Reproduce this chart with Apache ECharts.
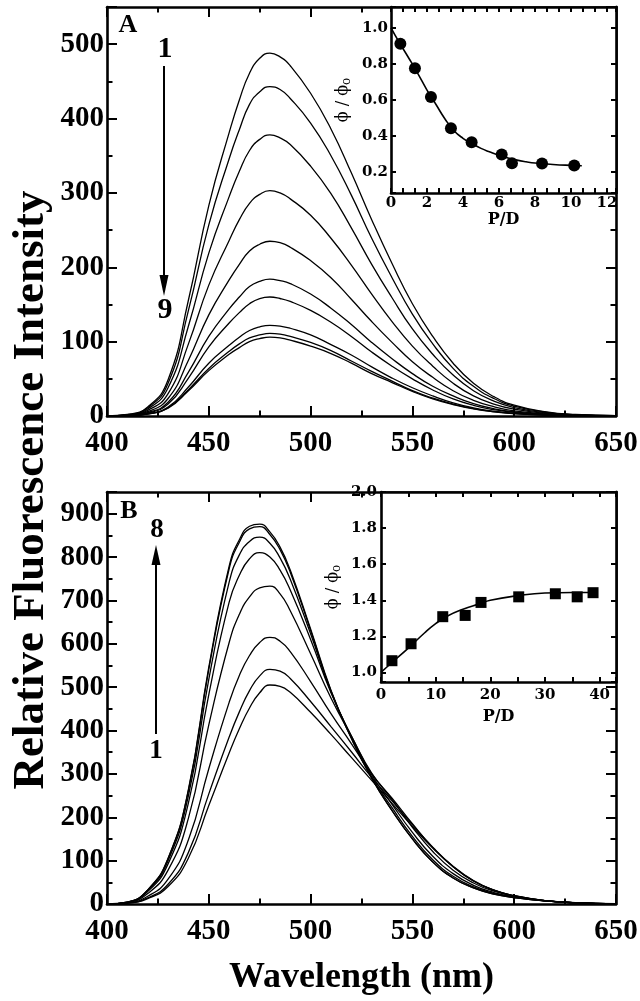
<!DOCTYPE html>
<html><head><meta charset="utf-8">
<script src="https://cdn.jsdelivr.net/npm/echarts@6/dist/echarts.min.js"></script>
<style>html,body{margin:0;padding:0;background:#fff}#c{width:640px;height:1001px}</style>
</head><body><div id="c"></div>
<script>
// ---- data ----
const wavelength = [400,410,420,430,440,450,460,465,470,475,480,485,490,500,510,520,530,540,550,560,570,580,590,600,615,630,650];

const specA1 = [0,2,12.2,48.8,156,283,381,425,461,481,488,483,471,434,386,327,264,205,151,107,71,44,26,14.6,5.9,2,0.5];
const specA2 = [0,1.8,11,44,142,257,346,385,419,436,443,439,427,394,350,297,239,186,137,97,64,40,23.5,13.3,5.3,1.8,0.4];
const specA3 = [0,1.5,9.5,38,121,219,295,329,357,372,378,374,365,336,299,253,204,159,117,83,55,34,20,11.3,4.5,1.5,0.4];
const specA4 = [0,1.2,7.6,30,97,176,236,264,286,298,303,300,292,270,239,203,164,127,94,67,44,27,16,9.1,3.6,1.2,0.3];
const specA5 = [0,0.9,5.9,23.5,75,136,183,204,222,231,235,233,227,209,186,157,127,99,73,52,34,21,12.5,7,2.8,0.9,0.2];
const specA6 = [0,0.7,4.6,18.4,59,107,144,160,174,181,184,182,178,164,145,123,99,77,57,40,27,16.6,9.8,5.5,2.2,0.7,0.2];
const specA7 = [0,0.6,4,16,51,93,125,139,151,158,160,158,154,142,126,107,86,67,50,35,23,14.4,8.5,4.8,1.9,0.6,0.2];
const specA8 = [0,0.5,3,12.2,39,71,95,106,115,120,122,121,118,109,96,82,66,51,38,27,17.7,11,6.5,3.7,1.5,0.5,0.1];
const specA9 = [0,0.4,2.8,11.1,35.5,64,87,97,105,109,111,110,107,99,88,74,60,47,34,24,16,10,5.9,3.3,1.3,0.4,0.1];
const specA10 = [0,0.4,2.7,10.6,34,61,83,92,100,104,106,105,102,94,84,71,57,45,33,23,15.4,9.5,5.6,3.2,1.3,0.4,0.1];

const specB1 = [0,2,12.6,40.4,106,227,348,404,452,487,505,502,488,442,391,338,285,232,179,129,86,53,32,18.7,7.6,3,0.5];
const specB2 = [0,2.2,14.2,45.6,119,254,385,443,492,526,541,537,520,467,409,351,292,238,183,131,87,54,32,19,7.8,3.1,0.5];
const specB3 = [0,2.7,17.8,57.3,148,312,465,527,573,603,615,606,582,513,439,370,300,244,185,130,86,53,32,19.1,7.9,3.2,0.6];
const specB4 = [0,3.4,24.2,78.1,198,413,603,668,708,729,733,715,676,577,475,387,302,241,177,121,78,48.5,29.5,18.1,7.9,3,0.5];
const specB5 = [0,3.9,28.6,92.5,233,483,696,758,796,810,800,770,724,610,487,388,298,230,165,110,70,43,26.4,16.7,7.5,2.9,0.5];
const specB6 = [0,4.2,30.8,100,250,518,742,805,836,846,832,798,749,623,490,385,293,222,156,102,64,39.5,24.4,15.7,7.2,2.7,0.4];
const specB7 = [0,4.4,32.3,104.6,262,541,773,834,865,870,852,817,765,631,491,382,290,215,150,97,60,37.2,23,15,7,2.6,0.4];
const specB8 = [0,4.4,32.6,105.6,264,546,779,840,871,876,858,823,770,634,493,383,290,216,150,97,60,37,23,15,7,2.6,0.4];

const insetA_PD = [0.52,1.33,2.22,3.33,4.48,6.15,6.72,8.39,10.18];
const insetA_ratio = [0.911,0.776,0.616,0.444,0.366,0.298,0.250,0.248,0.237];
const insetA_fitPD = [0,0.5,1,1.5,2,2.5,3,3.5,4,4.5,5,5.5,6,6.5,7,7.5,8,9,10,10.6];
const insetA_fitRatio = [1.0,0.912,0.83,0.745,0.655,0.575,0.495,0.43,0.388,0.358,0.332,0.312,0.294,0.279,0.267,0.258,0.251,0.243,0.238,0.236];

const insetB_PD = [2.0,5.5,11.3,15.4,18.3,25.2,31.9,35.9,38.8];
const insetB_ratio = [1.065,1.159,1.309,1.316,1.388,1.419,1.436,1.419,1.442];
const insetB_fitPD = [0,2,5,8,10,12,15,18,20,25,30,35,39];
const insetB_fitRatio = [1.0,1.055,1.135,1.22,1.27,1.31,1.35,1.38,1.40,1.425,1.44,1.443,1.443];

// ---- helpers ----
const SERIF = '"Liberation Serif", "Times New Roman", serif';
const ISERIF = '"DejaVu Serif", serif';
const near = (v, step) => Math.abs(v / step - Math.round(v / step)) < 1e-6;

function ax(gridIndex, position, min, max, interval, tickLen, o) {
  o = o || {};
  const a = {
    type: 'value', gridIndex, position, min, max,
    axisLine: { show: !!o.line, onZero: false, lineStyle: { color: '#000', width: o.lw || 2.6 } },
    axisTick: { show: true, inside: true, length: tickLen, lineStyle: { color: '#000', width: o.tw || 2 } },
    axisLabel: { show: false },
    splitLine: { show: false },
    minorTick: { show: false },
    z: o.z || 0
  };
  if (interval !== undefined) a.interval = interval; else a.splitNumber = 5;
  if (o.label) a.axisLabel = o.label;
  if (o.name) { a.name = o.name; a.nameLocation = 'middle'; a.nameGap = o.nameGap; a.nameTextStyle = o.nameTextStyle; }
  return a;
}

const mainLabel = (fmtStep, margin) => ({
  show: true, margin, color: '#000', fontFamily: SERIF, fontWeight: 'bold', fontSize: 29,
  formatter: v => near(v, fmtStep) ? String(Math.round(v)) : ''
});
const insetLabelX = (step, margin) => ({
  show: true, margin, color: '#000', fontFamily: ISERIF, fontWeight: 'bold', fontSize: 15,
  formatter: v => near(v, step) ? String(Math.round(v)) : ''
});
const insetLabelY = (margin) => ({
  show: true, margin, color: '#000', fontFamily: ISERIF, fontWeight: 'bold', fontSize: 15,
  formatter: v => near(v, 0.2) ? v.toFixed(1) : ''
});
const pdName = { fontFamily: ISERIF, fontWeight: 'bold', fontSize: 16, color: '#000' };
const phiName = {
  color: '#000',
  rich: {
    p: { fontFamily: ISERIF, fontSize: 16, color: '#000' },
    s: { fontFamily: ISERIF, fontSize: 12, color: '#000', verticalAlign: 'bottom', padding: [9, 0, 0, 0] }
  }
};

const xAxes = [
  ax(0, 'bottom', 400, 650, 50, 10, { line: true, label: mainLabel(50, 13) }),
  ax(0, 'bottom', 400, 650, 25, 5.5),
  ax(0, 'top', 400, 650, 50, 10, { line: true }),
  ax(0, 'top', 400, 650, 25, 5.5),
  ax(1, 'bottom', 400, 650, 50, 10, { line: true, label: mainLabel(50, 13),
     name: 'Wavelength (nm)', nameGap: 56,
     nameTextStyle: { fontFamily: SERIF, fontWeight: 'bold', fontSize: 36, color: '#000' } }),
  ax(1, 'bottom', 400, 650, 25, 5.5),
  ax(1, 'top', 400, 650, 50, 10, { line: true }),
  ax(1, 'top', 400, 650, 25, 5.5),
  ax(2, 'bottom', 0, 12.5, 2 / 3, 5, { line: true, z: 6, label: insetLabelX(2, 3), name: 'P/D', nameGap: 15, nameTextStyle: pdName }),
  ax(2, 'top', 0, 12.5, 2 / 3, 5, { line: true, z: 6 }),
  ax(3, 'bottom', 0, 43, 5, 5, { line: true, z: 6, label: insetLabelX(10, 6), name: 'P/D', nameGap: 27, nameTextStyle: pdName }),
  ax(3, 'top', 0, 43, 5, 5, { line: true, z: 6 })
];
const yAxes = [
  ax(0, 'left', 0, 550, 100, 10, { line: true, label: mainLabel(100, 3) }),
  ax(0, 'left', 0, 550, 50, 5.5),
  ax(0, 'right', 0, 550, 100, 10, { line: true }),
  ax(0, 'right', 0, 550, 50, 5.5),
  ax(1, 'left', 0, 950, 100, 10, { line: true, label: mainLabel(100, 3) }),
  ax(1, 'left', 0, 950, 50, 5.5),
  ax(1, 'right', 0, 950, 100, 10, { line: true }),
  ax(1, 'right', 0, 950, 50, 5.5),
  ax(2, 'left', 0.085, 1.115, undefined, 5, { line: true, z: 6, label: insetLabelY(3), name: '{p|ϕ / ϕ}{s|o}', nameGap: 38, nameTextStyle: phiName }),
  ax(2, 'right', 0.085, 1.115, undefined, 5, { line: true, z: 6 }),
  ax(3, 'left', 0.947, 2.0, undefined, 5, { line: true, z: 6, label: insetLabelY(4), name: '{p|ϕ / ϕ}{s|o}', nameGap: 38, nameTextStyle: phiName }),
  ax(3, 'right', 0.947, 2.0, undefined, 5, { line: true, z: 6 })
];

const pair = (xs, ys) => xs.map((x, i) => [x, ys[i]]);
const spectrum = (ys, grid) => ({
  type: 'line', xAxisIndex: grid * 4, yAxisIndex: grid * 4, data: pair(wavelength, ys),
  showSymbol: false, smooth: 0.5,
  lineStyle: { color: '#000', width: 1.3 }, z: 2, silent: true
});

const series = [];
[specA1, specA2, specA3, specA4, specA5, specA6, specA7, specA8, specA9, specA10].forEach(s => series.push(spectrum(s, 0)));
[specB1, specB2, specB3, specB4, specB5, specB6, specB7, specB8].forEach(s => series.push(spectrum(s, 1)));
series.push({ type: 'line', xAxisIndex: 8, yAxisIndex: 8, data: pair(insetA_fitPD, insetA_fitRatio), showSymbol: false, smooth: 0.5, lineStyle: { color: '#000', width: 1.6 }, z: 7 });
series.push({ type: 'scatter', xAxisIndex: 8, yAxisIndex: 8, data: pair(insetA_PD, insetA_ratio), symbol: 'circle', symbolSize: 12, itemStyle: { color: '#000', opacity: 1 }, z: 8 });
series.push({ type: 'line', xAxisIndex: 10, yAxisIndex: 10, data: pair(insetB_fitPD, insetB_fitRatio), showSymbol: false, smooth: 0.5, lineStyle: { color: '#000', width: 1.6 }, z: 7 });
series.push({ type: 'scatter', xAxisIndex: 10, yAxisIndex: 10, data: pair(insetB_PD, insetB_ratio), symbol: 'rect', symbolSize: 11, itemStyle: { color: '#000', opacity: 1 }, z: 8 });

const txt = (text, x, y, size, rot, font) => ({
  type: 'text', x, y, rotation: rot || 0, z: 100,
  style: { text, fill: '#000', fontFamily: font || SERIF, fontWeight: 'bold', fontSize: size,
           align: 'center', verticalAlign: 'middle', textAlign: 'center', textVerticalAlign: 'middle' }
});

const option = {
  animation: false,
  backgroundColor: '#fff',
  grid: [
    { left: 107, top: 7, width: 509, height: 409, outerBoundsMode: 'none', containLabel: false },
    { left: 107, top: 492, width: 509, height: 412, outerBoundsMode: 'none', containLabel: false },
    { left: 391, top: 7, width: 225, height: 186, show: true, backgroundColor: '#fff', borderWidth: 0, z: 5, outerBoundsMode: 'none', containLabel: false },
    { left: 381, top: 492, width: 235, height: 190, show: true, backgroundColor: '#fff', borderWidth: 0, z: 5, outerBoundsMode: 'none', containLabel: false }
  ],
  xAxis: xAxes,
  yAxis: yAxes,
  series,
  graphic: [
    txt('Relative Fluorescence Intensity', 31, 490, 45, Math.PI / 2),
    txt('A', 128, 25, 26),
    txt('B', 129, 511, 26),
    txt('1', 165, 49, 30),
    txt('9', 165, 310, 30),
    txt('8', 157, 530, 27),
    txt('1', 156, 751, 27),
    { type: 'line', z: 100, shape: { x1: 164, y1: 66, x2: 164, y2: 278 }, style: { stroke: '#000', lineWidth: 2 } },
    { type: 'polygon', z: 100, shape: { points: [[159.5, 275], [168.5, 275], [164, 296]] }, style: { fill: '#000' } },
    { type: 'line', z: 100, shape: { x1: 156, y1: 734, x2: 156, y2: 562 }, style: { stroke: '#000', lineWidth: 2 } },
    { type: 'polygon', z: 100, shape: { points: [[151.5, 565], [160.5, 565], [156, 545]] }, style: { fill: '#000' } }
  ]
};

const chart = echarts.init(document.getElementById('c'));
chart.setOption(option);
</script>
</body></html>
